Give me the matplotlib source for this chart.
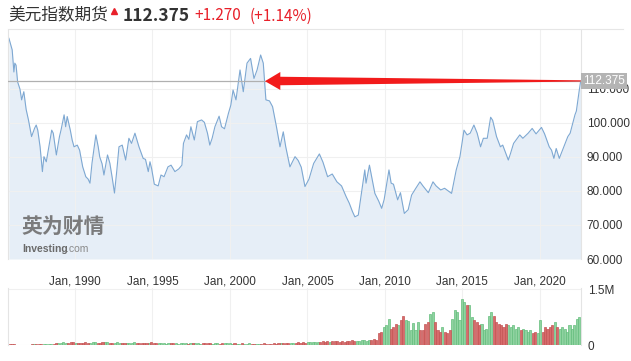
import numpy as np
import matplotlib
matplotlib.use("Agg")
import matplotlib.pyplot as plt
import matplotlib.transforms as mtransforms
from matplotlib.patches import Polygon
from matplotlib.lines import Line2D

plt.rcParams["font.family"] = ["Liberation Sans", "Noto Sans CJK SC", "DejaVu Sans"]

# price (decimal year, index level)
price_dates = [
    1985.74, 1985.95, 1986.06, 1986.12, 1986.20, 1986.30, 1986.45, 1986.56, 1986.70, 1986.85,
    1987.00, 1987.20, 1987.40, 1987.50, 1987.60, 1987.75, 1987.90, 1988.00, 1988.15, 1988.35,
    1988.50, 1988.60, 1988.80, 1989.00, 1989.10, 1989.30, 1989.40, 1989.50, 1989.70, 1989.82,
    1989.94, 1990.15, 1990.30, 1990.50, 1990.70, 1990.85, 1990.97, 1991.10, 1991.35, 1991.50,
    1991.60, 1991.75, 1991.87, 1992.10, 1992.25, 1992.40, 1992.55, 1992.70, 1992.84, 1993.05,
    1993.27, 1993.48, 1993.65, 1993.87, 1994.13, 1994.40, 1994.55, 1994.73, 1994.84, 1994.95,
    1995.12, 1995.37, 1995.55, 1995.75, 1996.00, 1996.20, 1996.45, 1996.70, 1996.90, 1997.00,
    1997.20, 1997.35, 1997.48, 1997.70, 1997.90, 1998.17, 1998.35, 1998.55, 1998.70, 1998.85,
    1999.03, 1999.30, 1999.46, 1999.65, 1999.90, 2000.06, 2000.20, 2000.39, 2000.65, 2000.86,
    2001.10, 2001.33, 2001.55, 2001.75, 2001.98, 2002.15, 2002.32, 2002.55, 2002.75, 2003.00,
    2003.23, 2003.44, 2003.60, 2003.87, 2004.20, 2004.40, 2004.60, 2004.84, 2005.10, 2005.40,
    2005.77, 2006.00, 2006.30, 2006.60, 2006.90, 2007.20, 2007.50, 2007.70, 2007.90, 2008.06,
    2008.28, 2008.45, 2008.70, 2008.78, 2009.00, 2009.15, 2009.35, 2009.60, 2009.79, 2009.95,
    2010.26, 2010.40, 2010.55, 2010.82, 2011.00, 2011.25, 2011.50, 2011.72, 2011.95, 2012.26,
    2012.45, 2012.80, 2013.10, 2013.30, 2013.60, 2013.85, 2014.30, 2014.60, 2014.84, 2015.10,
    2015.30, 2015.50, 2015.74, 2015.95, 2016.17, 2016.35, 2016.60, 2016.82, 2016.95, 2017.20,
    2017.45, 2017.60, 2017.96, 2018.10, 2018.30, 2018.70, 2018.90, 2019.24, 2019.50, 2019.75,
    2020.10, 2020.30, 2020.60, 2020.75, 2020.90, 2021.05, 2021.25, 2021.50, 2021.80, 2021.95,
    2022.26, 2022.35, 2022.54, 2022.63,
]
price_values = [
    124.9, 121.5, 115.0, 117.6, 117.0, 112.1, 110.0, 106.8, 109.2, 104.0,
    100.9, 96.0, 98.5, 99.4, 97.9, 93.0, 85.7, 90.1, 88.6, 94.0,
    97.9, 97.0, 90.6, 96.0, 97.9, 102.4, 98.9, 101.9, 97.9, 95.0,
    93.0, 93.5, 92.0, 87.1, 84.2, 83.5, 82.3, 88.2, 96.5, 93.0,
    90.0, 88.0, 84.7, 90.6, 88.2, 84.0, 79.4, 86.0, 93.0, 93.5,
    89.1, 95.5, 94.0, 97.0, 93.0, 89.6, 89.3, 85.7, 88.6, 86.5,
    82.0, 81.5, 84.7, 84.2, 87.1, 87.6, 85.7, 86.5, 87.6, 94.0,
    96.5, 95.2, 98.9, 95.0, 100.4, 100.9, 100.2, 97.0, 93.5, 95.5,
    98.9, 102.0, 98.9, 98.3, 102.8, 105.3, 109.7, 106.8, 115.6, 109.2,
    117.6, 119.0, 113.1, 115.6, 120.0, 117.6, 106.8, 106.5, 104.8, 98.9,
    93.0, 97.4, 93.0, 87.1, 90.1, 89.0, 87.0, 81.3, 83.5, 88.1,
    90.9, 88.5, 84.2, 85.0, 82.7, 81.5, 78.3, 76.4, 74.0, 72.4,
    72.9, 78.3, 86.2, 82.3, 87.6, 84.0, 79.3, 77.0, 74.9, 77.5,
    86.2, 82.3, 82.0, 77.4, 79.5, 73.4, 74.5, 78.8, 80.5, 82.7,
    81.5, 79.5, 82.7, 81.5, 80.3, 80.8, 79.3, 86.2, 90.1, 97.9,
    96.5, 97.0, 99.4, 97.0, 93.0, 95.5, 95.5, 101.7, 100.8, 96.0,
    93.0, 93.5, 89.1, 91.0, 94.0, 96.5, 95.5, 97.0, 98.4, 96.8,
    98.7, 96.8, 93.0, 92.0, 89.6, 92.5, 89.6, 92.5, 96.0, 97.0,
    102.4, 103.5, 109.7, 112.375,
]

# volume (millions of contracts), bars from late 1985 to 2022
volume = [
    0.03, 0.03, 0.02,
    0, 0, 0, 0, 0, 0,
    0.02, 0.03, 0.03, 0.02, 0.03, 0.03, 0.04, 0.03, 0.04, 0.04,
    0.05, 0.06, 0.05, 0.07, 0.06, 0.05, 0.07, 0.08, 0.06, 0.05,
    0.05, 0.06, 0.07, 0.05, 0.06, 0.07, 0.08, 0.06, 0.05, 0.07, 0.08, 0.07, 0.06,
    0.05, 0.06, 0.07, 0.05, 0.06, 0.05, 0.06, 0.05, 0.06, 0.07, 0.05, 0.05, 0.06,
    0.05, 0.05, 0.06, 0.07, 0.05, 0.06,
    0.05, 0.06, 0.05, 0.04, 0.05, 0.06, 0.05, 0.05, 0.04, 0.05, 0.06, 0.05, 0.04,
    0.05, 0.05, 0.06, 0.05, 0.04, 0.05, 0.05, 0.06, 0.05, 0.04, 0.05, 0.05, 0.04,
    0.05, 0.06, 0.05, 0.05, 0.04, 0.05, 0.04,
    0.04, 0.05, 0.04, 0.04, 0.05, 0.04, 0.04, 0.03, 0.04, 0.04, 0.05, 0.04, 0.04,
    0.04, 0.05, 0.04, 0.05, 0.05, 0.06, 0.05, 0.06, 0.06, 0.05, 0.06, 0.07, 0.06,
    0.07, 0.06, 0.07, 0.08, 0.07, 0.08,
    0.08, 0.09, 0.10, 0.09, 0.10, 0.09, 0.11, 0.12, 0.10, 0.09, 0.10, 0.09, 0.10,
    0.12, 0.13, 0.12, 0.11, 0.12, 0.13, 0.14, 0.12, 0.13, 0.14, 0.15, 0.13,
    0.31, 0.35, 0.49, 0.53, 0.69, 0.44, 0.49, 0.57, 0.53, 0.66, 0.79, 0.66, 0.64,
    0.40, 0.59, 0.40, 0.62, 0.40, 0.40, 0.57, 0.62, 0.84, 0.88, 0.62, 0.40, 0.35,
    0.49, 0.35, 0.31, 0.40, 0.69, 0.93, 0.88, 0.66, 1.22, 1.15, 1.06, 1.06, 0.75,
    0.66, 0.62, 0.53, 0.57, 0.40, 0.44, 0.79, 0.88, 0.79, 0.62, 0.57, 0.53, 0.49,
    0.57, 0.53, 0.49, 0.53, 0.44, 0.49, 0.40, 0.44, 0.40, 0.35, 0.40, 0.31, 0.35,
    0.31, 0.66, 0.35, 0.49, 0.44, 0.49, 0.53, 0.62, 0.49, 0.44, 0.49, 0.44, 0.35,
    0.53, 0.44, 0.53, 0.69, 0.75,
]
vol_start, vol_end = 1985.78, 2022.54

year_ticks = [1990, 1995, 2000, 2005, 2010, 2015, 2020]
year_labels = ["Jan, %d" % y for y in year_ticks]
price_ticks = [60, 70, 80, 90, 100, 110]

title_name = "美元指数期货"
last_text = "112.375"
change_text = "+1.270"
pct_text = "(+1.14%)"

W, H = 631, 361
fig = plt.figure(figsize=(W / 100, H / 100), dpi=100)
fig.patch.set_facecolor("white")


def frame(left, top, right, bottom):
    return [left / W, 1 - bottom / H, (right - left) / W, (bottom - top) / H]


xmin, xmax = 1985.68, 2022.65
grid_c = "#f0f0f0"
edge_c = "#e4e4e4"
text_c = "#333333"

# price pane
ax = fig.add_axes(frame(8, 30, 581, 259))
ax.fill_between(price_dates, price_values, 60, color="#e6eef7", lw=0, zorder=1)
ax.plot(price_dates, price_values, color="#7ea8d2", lw=0.8, zorder=2)
ax.set_xlim(xmin, xmax)
ax.set_ylim(60, 127.35)
ax.set_yticks(price_ticks)
ax.set_yticklabels(["%.3f" % v for v in price_ticks])
ax.yaxis.tick_right()
ax.set_xticks(year_ticks)
ax.set_xticklabels(year_labels)
ax.tick_params(axis="both", length=0, labelsize=8.5, colors=text_c)
ax.tick_params(axis="x", pad=12)
ax.tick_params(axis="y", pad=4)
ax.grid(True, color=grid_c, lw=0.8, zorder=0)
for s in ["top", "bottom"]:
    ax.spines[s].set_visible(False)
for s in ["left", "right"]:
    ax.spines[s].set_color(edge_c)

last_val = price_values[-1]
ax.axhline(last_val, color="#b0b0b0", lw=0.9, zorder=3)

# red tapered arrow pointing at the 2001-2002 level
arrow = Polygon(
    [(2002.26, 112.3), (2003.25, 115.0), (2003.25, 113.6), (price_dates[-1], 112.55),
     (price_dates[-1], 112.2), (2003.25, 111.1), (2003.25, 109.7)],
    closed=True, facecolor="#f21b1b", edgecolor="none", zorder=5)
ax.add_patch(arrow)

trans = mtransforms.blended_transform_factory(ax.transAxes, ax.transData)
ax.text(1.004, last_val, last_text, transform=trans, ha="left", va="center",
        fontsize=8.5, color="white", zorder=6,
        bbox=dict(boxstyle="square,pad=0.18", facecolor="#b4b4b4", edgecolor="none"))

# watermark
ax.text(0.024, 0.14, "英为财情", transform=ax.transAxes, fontsize=15, fontweight="bold",
        color="#6f6f6f", family=["Noto Sans CJK SC"], va="center", alpha=0.9)
ax.text(0.024, 0.045, "Investing", transform=ax.transAxes, fontsize=7.5, fontweight="bold",
        color="#6a6a6a", va="center")
ax.text(0.101, 0.045, ".com", transform=ax.transAxes, fontsize=7.5, color="#8a8a8a",
        va="center")

# volume pane
vax = fig.add_axes(frame(8, 288, 581, 345))
vol = np.array(volume)
vol_dates = np.linspace(vol_start, vol_end, len(vol))
step = vol_dates[1] - vol_dates[0]
p0 = np.interp(vol_dates - step / 2, price_dates, price_values)
p1 = np.interp(vol_dates + step / 2, price_dates, price_values)
up = p1 >= p0
vax.bar(vol_dates[up], vol[up], width=step * 0.85, color="#8fd3a0",
        edgecolor="#63bd7c", lw=0.5, zorder=2)
vax.bar(vol_dates[~up], vol[~up], width=step * 0.85, color="#d66b6b",
        edgecolor="#c45454", lw=0.5, zorder=2)
vax.set_xlim(xmin, xmax)
vax.set_ylim(0, 1.527)
vax.set_yticks([0, 1.5])
vax.set_yticklabels(["0", "1.5M"])
vax.yaxis.tick_right()
vax.set_xticks(year_ticks)
vax.set_xticklabels([])
vax.tick_params(axis="both", length=0, labelsize=8.5, colors=text_c)
vax.tick_params(axis="y", pad=5)
vax.grid(True, color=grid_c, lw=0.8, zorder=0)
vax.set_axisbelow(True)
for s in ["top", "bottom"]:
    vax.spines[s].set_visible(False)
for s in ["left", "right"]:
    vax.spines[s].set_color(edge_c)

# header
cjk = ["Noto Sans CJK SC", "DejaVu Sans"]
ty = 1 - 16 / H
fig.text(8 / W, ty, title_name, fontsize=12, color="#333333", family=cjk, va="center")
fig.add_artist(Line2D([114 / W], [1 - 11 / H], marker="^", markersize=4.5,
                      color="#e8202a", transform=fig.transFigure))
fig.text(123 / W, ty, last_text, fontsize=12.5, fontweight="bold", color="#333333",
         family=cjk, va="center")
fig.text(194 / W, ty, change_text, fontsize=11, color="#e8202a", family=cjk, va="center")
fig.text(250 / W, ty, pct_text, fontsize=11, color="#e8202a", family=cjk, va="center")
fig.add_artist(Line2D([8 / W, 623 / W], [1 - 28.5 / H] * 2, color="#e6e6e6", lw=0.8,
                      transform=fig.transFigure))

fig.savefig("out.png", dpi=100)
